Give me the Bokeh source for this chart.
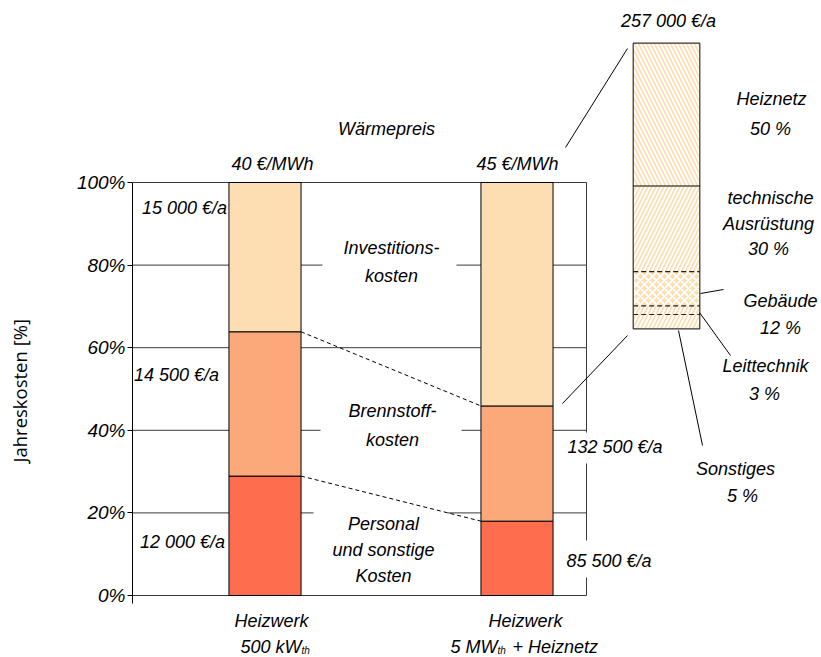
from bokeh.plotting import figure
from bokeh.models import Range1d, FixedTicker, PrintfTickFormatter, Title
from bokeh.core.properties import value
from bokeh.embed import file_html
from bokeh.resources import INLINE

# ---------------- data ----------------
plants = ["Heizwerk 500 kWth", "Heizwerk 5 MWth + Heiznetz"]
personal = [12000, 85500]          # Personal und sonstige Kosten, EUR/a
brennstoff = [14500, 132500]       # Brennstoffkosten, EUR/a
investition = [15000, 257000]      # Investitionskosten, EUR/a
waermepreis = ["40 €/MWh", "45 €/MWh"]
invest_parts = ["Heiznetz", "technische Ausrüstung", "Gebäude", "Leittechnik", "Sonstiges"]
invest_shares = [50, 30, 12, 3, 5]  # % of Investitionskosten (Heizwerk 5 MW + Heiznetz)
ticks = [0, 20, 40, 60, 80, 100]

# ---------------- layout helpers (pixel -> data) ----------------
def X(px):
    return 1 + (px - 264.5) / 252.0

def Y(py):
    return (595.0 - py) / 4.13

FONT = "Liberation Sans"
C_INV, C_BR, C_PER = "#FDDEB2", "#FBA97B", "#FF6D4F"

p = figure(width=821, height=657, title=None,
           x_range=Range1d(X(132), X(821)), y_range=Range1d(Y(657), Y(0)),
           output_backend="svg", toolbar_location=None, x_axis_location=None,
           min_border_left=132, min_border_right=0, min_border_top=0, min_border_bottom=0)
p.outline_line_color = None
p.grid.visible = False

ax = p.yaxis[0]
ax.ticker = FixedTicker(ticks=ticks)
ax.bounds = (-2, 100)
ax.formatter = PrintfTickFormatter(format="%d%%")
ax.major_label_text_font = FONT
ax.major_label_text_font_style = "italic"
ax.major_label_text_font_size = "19px"
ax.major_label_text_color = "black"
ax.major_label_standoff = 2
ax.major_tick_out = 5
ax.major_tick_in = 0
ax.minor_tick_line_color = None
ax.axis_line_color = "black"
ax.major_tick_line_color = "black"
# blank axis label used only as spacer so the side title sits at the far left
ax.axis_label = " "
ax.axis_label_text_font = "Open Sans"
ax.axis_label_text_font_size = "18px"
ax.axis_label_standoff = 15

p.add_layout(Title(text="Jahreskosten [%]", align="left", offset=195, vertical_align="bottom",
                   text_font="Open Sans", text_font_size="18.5px", text_font_style="normal",
                   text_color="black", standoff=0), "left")

# ---------------- percentages ----------------
totals = [a + b + c for a, b, c in zip(personal, brennstoff, investition)]
p_per = [100.0 * a / t for a, t in zip(personal, totals)]
p_br = [100.0 * (a + b) / t for a, b, t in zip(personal, brennstoff, totals)]

bar_x = [1, 2]
bar_w = 0.286
frame_right = X(586)

# ---------------- grid lines ----------------
p.segment(x0=[X(132)] * len(ticks), x1=[frame_right] * len(ticks), y0=ticks, y1=ticks,
          line_color="#3a3a3a", line_width=1)
p.segment(x0=[frame_right], x1=[frame_right], y0=[0], y1=[100], line_color="#3a3a3a", line_width=1)

# white masks making gaps for labels
mask_boxes = [(322, 456, 259, 269), (320, 461, 425, 435), (313, 447, 507, 517),
              (582, 590, 432, 463), (582, 590, 540, 577)]
p.quad(left=[X(b[0]) for b in mask_boxes], right=[X(b[1]) for b in mask_boxes],
       top=[Y(b[2]) for b in mask_boxes], bottom=[Y(b[3]) for b in mask_boxes],
       fill_color="white", line_color=None)

# ---------------- stacked bars ----------------
p.vbar(x=bar_x, width=bar_w, bottom=[0, 0], top=p_per, fill_color=C_PER, line_color="black", line_width=1)
p.vbar(x=bar_x, width=bar_w, bottom=p_per, top=p_br, fill_color=C_BR, line_color="black", line_width=1)
p.vbar(x=bar_x, width=bar_w, bottom=p_br, top=[100, 100], fill_color=C_INV, line_color="black", line_width=1)

# dashed connectors between bars
p.segment(x0=[bar_x[0] + bar_w / 2] * 2, x1=[bar_x[1] - bar_w / 2] * 2,
          y0=[p_br[0], p_per[0]], y1=[p_br[1], p_per[1]],
          line_color="black", line_width=1, line_dash="4 3")

# ---------------- detail bar (Investitionskosten) ----------------
d_cx, d_w = X(666), 66.6 / 252.0
d_bot, d_top = Y(328.3), Y(42.7)
d_scale = (d_top - d_bot) / 100.0
hatches = {"Heiznetz": "left_diagonal_line", "technische Ausrüstung": "right_diagonal_line",
           "Gebäude": "diagonal_cross", "Leittechnik": "right_diagonal_line",
           "Sonstiges": "right_diagonal_line"}
tops, bots = [], []
acc = 0.0
for share in invest_shares:
    tops.append(d_top - acc * d_scale)
    acc += share
    bots.append(d_top - acc * d_scale)
p.vbar(x=[d_cx] * len(invest_parts), width=d_w, top=tops, bottom=bots,
       fill_color=C_INV, line_color=None,
       hatch_pattern=[hatches[n] for n in invest_parts], hatch_color="white",
       hatch_scale=8, hatch_weight=1.8)
p.quad(left=[d_cx - d_w / 2], right=[d_cx + d_w / 2], top=[d_top], bottom=[d_bot],
       fill_color=None, line_color="#333333", line_width=1.2)
# separators: first solid, others dashed
p.segment(x0=[d_cx - d_w / 2], x1=[d_cx + d_w / 2], y0=[bots[0]], y1=[bots[0]],
          line_color="black", line_width=1)
p.segment(x0=[d_cx - d_w / 2] * 3, x1=[d_cx + d_w / 2] * 3, y0=bots[1:4], y1=bots[1:4],
          line_color="#222222", line_width=1.2, line_dash="5 3")

# leader lines
leaders = [((565, 147), (627, 48)), ((562, 403), (627, 335)), ((700, 293), (723, 289)),
           ((699, 312), (730, 355)), ((678, 330), (702, 445))]
p.segment(x0=[X(a[0]) for a, b in leaders], y0=[Y(a[1]) for a, b in leaders],
          x1=[X(b[0]) for a, b in leaders], y1=[Y(b[1]) for a, b in leaders],
          line_color="black", line_width=1)

# ---------------- texts ----------------
def txt(px, py, s, size=18, align="center"):
    p.text(x=[X(px)], y=[Y(py)], text=[s], text_font=value(FONT), text_font_size=f"{size}px",
           text_font_style="italic", text_align=align, text_baseline="middle", text_color="black")

def eur(v):
    return f"{v:,}".replace(",", " ") + " €/a"

txt(386, 128, "Wärmepreis")
txt(272, 163, waermepreis[0])
txt(517, 163, waermepreis[1])
txt(668, 20, eur(investition[1]))

txt(184, 207, eur(investition[0]))
txt(176, 374, eur(brennstoff[0]))
txt(182, 541, eur(personal[0]))
txt(567, 446, eur(brennstoff[1]), align="left")
txt(566, 560, eur(personal[1]), align="left")

txt(391, 247, "Investitions-")
txt(391, 275, "kosten")
txt(392, 410, "Brennstoff-")
txt(392, 439, "kosten")
txt(383, 523, "Personal")
txt(383, 549, "und sonstige")
txt(383, 575, "Kosten")

txt(771, 98, "Heiznetz")
txt(770, 128, f"{invest_shares[0]} %")
txt(770, 197, "technische")
txt(768, 223, "Ausrüstung")
txt(768, 248, f"{invest_shares[1]} %")
txt(780, 300, "Gebäude")
txt(780, 327, f"{invest_shares[2]} %")
txt(765, 365, "Leittechnik")
txt(764, 393, f"{invest_shares[3]} %")
txt(735, 468, "Sonstiges")
txt(742, 495, f"{invest_shares[4]} %")

# category labels with subscript "th"
txt(271, 620, "Heizwerk")
txt(301, 646, "500 kW", align="right")
txt(301, 650, "th", size=10, align="left")
txt(525, 620, "Heizwerk")
txt(497, 646, "5 MW", align="right")
txt(497, 650, "th", size=10, align="left")
txt(512, 646, "+ Heiznetz", align="left")

open("out.html", "w").write(file_html(p, INLINE))
